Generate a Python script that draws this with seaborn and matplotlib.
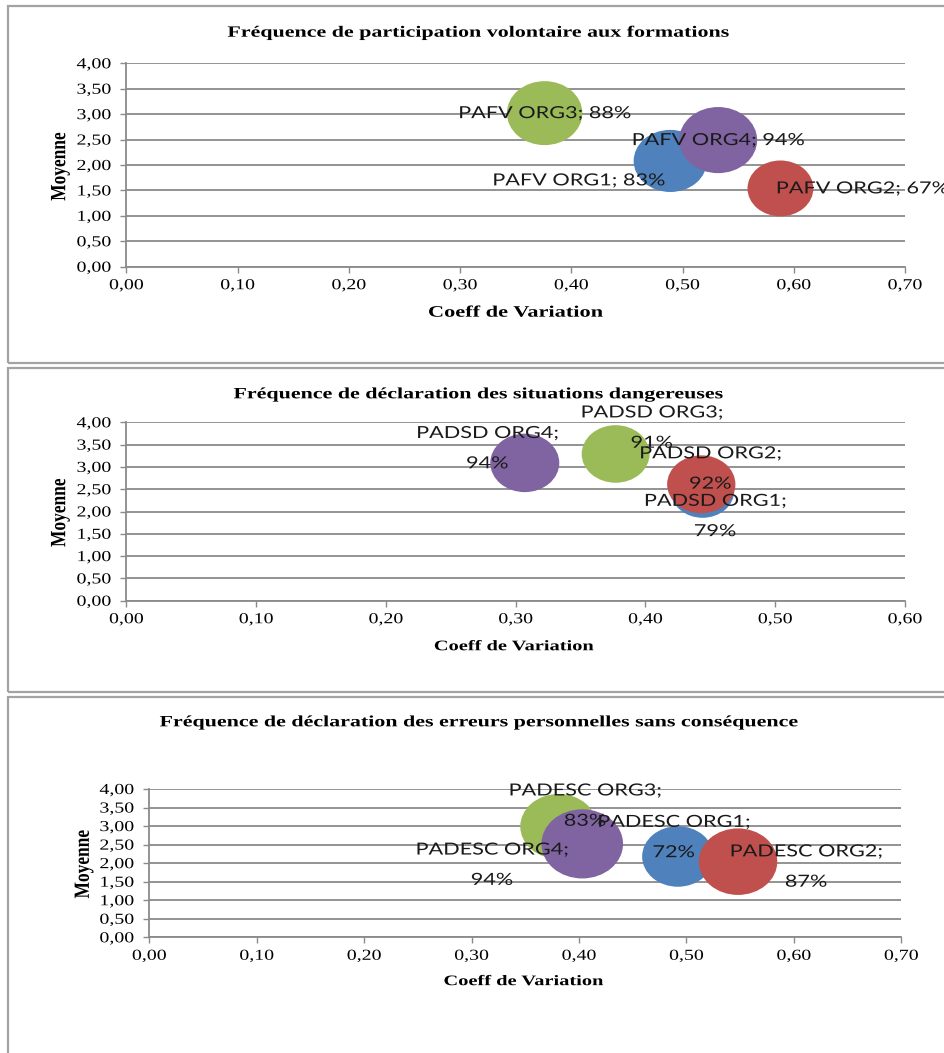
import matplotlib
matplotlib.use("Agg")
import numpy as np
import pandas as pd
import seaborn as sns
import matplotlib.pyplot as plt
from matplotlib.path import Path
from matplotlib.markers import MarkerStyle
from matplotlib.patheffects import AbstractPathEffect
from matplotlib.transforms import Affine2D
from matplotlib.ticker import FuncFormatter, MultipleLocator
from matplotlib.patches import Rectangle

# ---------------------------------------------------------------- data
organisations = ["ORG1", "ORG2", "ORG3", "ORG4"]

panel_titles = [
    "Fréquence de participation volontaire aux formations",
    "Fréquence de déclaration des situations dangereuses",
    "Fréquence de déclaration des erreurs personnelles sans conséquence",
]
indicator_codes = ["PAFV", "PADSD", "PADESC"]
x_axis_label = "Coeff de Variation"
y_axis_label = "Moyenne"

# coefficient of variation, mean score and share (bubble size) per organisation
pafv_cv = [0.489, 0.588, 0.376, 0.532]
pafv_mean = [2.08, 1.54, 3.02, 2.49]
pafv_pct = [83, 67, 88, 94]

padsd_cv = [0.444, 0.443, 0.377, 0.307]
padsd_mean = [2.46, 2.61, 3.29, 3.09]
padsd_pct = [79, 92, 91, 94]

padesc_cv = [0.492, 0.548, 0.381, 0.403]
padesc_mean = [2.18, 2.04, 2.99, 2.52]
padesc_pct = [72, 87, 83, 94]

x_limits = [0.70, 0.60, 0.70]
y_limit = 4.0

panels = [
    (pafv_cv, pafv_mean, pafv_pct),
    (padsd_cv, padsd_mean, padsd_pct),
    (padesc_cv, padesc_mean, padesc_pct),
]

# ---------------------------------------------------------------- style
bubble_colors = {"ORG1": "#4F81BD", "ORG2": "#C0504D",
                 "ORG3": "#9BBB59", "ORG4": "#8064A2"}
grid_color = "#8a8a8a"
frame_color = "#a3a3a3"

W, H = 944, 1053
DPI = 100

# pixel boxes (left, top, right, bottom) of each plotting area
axes_px = [(126.4, 63.3, 905.0, 266.7),
           (126.4, 422.3, 905.0, 600.7),
           (149.3, 789.0, 901.3, 937.3)]
# outer chart frames (left, top, bottom)
frame_px = [(8, 6, 363), (8, 368, 692), (8, 697, 1080)]
title_px = [(479, 32.7), (478.6, 394.3), (479, 722.3)]
xlabel_pos = [(0.500, -0.226), (0.498, -0.258), (0.498, -0.299)]
ylabel_pos = [(-0.085, 0.493), (-0.085, 0.494), (-0.087, 0.494)]
xlabel_size = [11.5, 10.5, 10.5]
bubble_area_full = [3355, 2626, 3672]   # marker area (pt^2) for a 100 % bubble
two_line_labels = [False, True, True]

# data label placement: (horizontal alignment, dx pt, dy pt)
label_place = [
    [("right", -4, -14), ("left", -3, 0), ("center", 0, 0), ("center", 0, 0)],
    [("center", 9, -18), ("center", 6.5, 11.4), ("center", 26, 19), ("center", -27, 10.6)],
    [("center", -3, 14), ("center", 49, -3.5), ("center", 19, 15), ("center", -65, -15)],
]

# bubbles are slightly wider than tall
ASPECT = 1.18
_circle = Path.unit_circle()
bubble_marker = MarkerStyle(Path(_circle.vertices * np.array([ASPECT, 1.0]), _circle.codes))


class Widen(AbstractPathEffect):
    """Draw text glyphs horizontally widened by a constant factor."""

    def __init__(self, factor, anchor="center", along_y=False):
        super().__init__()
        self.factor = factor
        self.anchor = anchor
        self.along_y = along_y

    def draw_path(self, renderer, gc, tpath, affine, rgbFace=None):
        if len(tpath.vertices) == 0:
            renderer.draw_path(gc, tpath, affine, rgbFace)
            return
        ext = tpath.get_extents()
        if self.along_y:
            c = (ext.y0 + ext.y1) / 2
            widen = Affine2D().translate(0, -c).scale(1, self.factor).translate(0, c)
        else:
            c = {"left": ext.x0, "right": ext.x1}.get(self.anchor, (ext.x0 + ext.x1) / 2)
            widen = Affine2D().translate(-c, 0).scale(self.factor, 1).translate(c, 0)
        renderer.draw_path(gc, tpath, widen + affine, rgbFace)


SERIF_WIDEN = 1.4
TICK_WIDEN = 1.3
LABEL_WIDEN = 1.3

sns.set_style("white")
plt.rcParams["font.family"] = ["Liberation Serif", "DejaVu Serif"]

fig = plt.figure(figsize=(W / DPI, H / DPI), dpi=DPI)
fig.patch.set_facecolor("white")


def fig_rect(left, top, right, bottom):
    return [left / W, 1 - bottom / H, (right - left) / W, (bottom - top) / H]


comma_fmt = FuncFormatter(lambda v, _: f"{v:.2f}".replace(".", ","))
all_axes = []

for i, (cv, mean, pct) in enumerate(panels):
    # chart frame
    fl, ft, fb = frame_px[i]
    fig.add_artist(Rectangle((fl / W, 1 - fb / H), 1.2, (fb - ft) / H,
                             transform=fig.transFigure, fill=False,
                             edgecolor=frame_color, linewidth=1.6, zorder=0))

    ax = fig.add_axes(fig_rect(*axes_px[i]))
    all_axes.append(ax)
    df = pd.DataFrame({"org": organisations, "cv": cv, "moyenne": mean, "pct": pct})

    sns.scatterplot(data=df, x="cv", y="moyenne", hue="org", size="pct",
                    hue_order=organisations, palette=bubble_colors,
                    sizes=(0, bubble_area_full[i]), size_norm=(0, 100),
                    marker=bubble_marker, linewidth=0, edgecolor="none",
                    alpha=1.0, legend=False, ax=ax, zorder=3, clip_on=False)

    ax.set_xlim(0, x_limits[i])
    ax.set_ylim(0, y_limit)
    ax.xaxis.set_major_locator(MultipleLocator(0.10))
    ax.yaxis.set_major_locator(MultipleLocator(0.50))
    ax.xaxis.set_major_formatter(comma_fmt)
    ax.yaxis.set_major_formatter(comma_fmt)

    ax.set_axisbelow(True)
    ax.yaxis.grid(True, color=grid_color, linewidth=1.3)
    ax.xaxis.grid(False)
    for side in ("top", "right"):
        ax.spines[side].set_visible(False)
    for side in ("left", "bottom"):
        ax.spines[side].set_color(grid_color)
        ax.spines[side].set_linewidth(1.3)
    ax.tick_params(axis="both", which="major", bottom=True, left=True,
                   direction="out", length=4, width=1.0, color=grid_color,
                   labelsize=11, labelcolor="black")
    ax.tick_params(axis="x", pad=5)
    ax.tick_params(axis="y", pad=7)

    # axis titles
    ax.set_xlabel(x_axis_label, fontsize=xlabel_size[i], fontweight="bold",
                  color="black", va="center", ha="center")
    ax.xaxis.set_label_coords(*xlabel_pos[i])
    ax.set_ylabel(y_axis_label, fontsize=12.5, fontweight="bold",
                  color="black", va="center", ha="center")
    ax.yaxis.set_label_coords(*ylabel_pos[i])
    ax.xaxis.label.set_path_effects([Widen(SERIF_WIDEN)])
    ax.yaxis.label.set_path_effects([Widen(1.25, along_y=True)])

    # chart title
    tx, ty = title_px[i]
    t = fig.text(tx / W, 1 - ty / H, panel_titles[i], ha="center", va="center",
                 fontsize=11.3, fontweight="bold", color="black")
    t.set_path_effects([Widen(SERIF_WIDEN)])

    # data labels: series name and share
    sep = "\n" if two_line_labels[i] else " "
    for org, x, y, p, (ha, dx, dy) in zip(organisations, cv, mean, pct, label_place[i]):
        txt = f"{indicator_codes[i]} {org};{sep}{p}%"
        a = ax.annotate(txt, (x, y), xytext=(dx, dy), textcoords="offset points",
                        ha=ha, va="center", multialignment="center",
                        fontsize=12, family=["Lato", "DejaVu Sans"],
                        color="#1a1a1a", linespacing=2.1, zorder=5,
                        annotation_clip=False)
        a.set_path_effects([Widen(LABEL_WIDEN, anchor=ha)])

fig.canvas.draw()
for ax in all_axes:
    for lab in ax.get_xticklabels():
        lab.set_path_effects([Widen(TICK_WIDEN, anchor="center")])
    for lab in ax.get_yticklabels():
        lab.set_path_effects([Widen(TICK_WIDEN, anchor="right")])

fig.savefig("out.png", dpi=DPI, facecolor="white")
